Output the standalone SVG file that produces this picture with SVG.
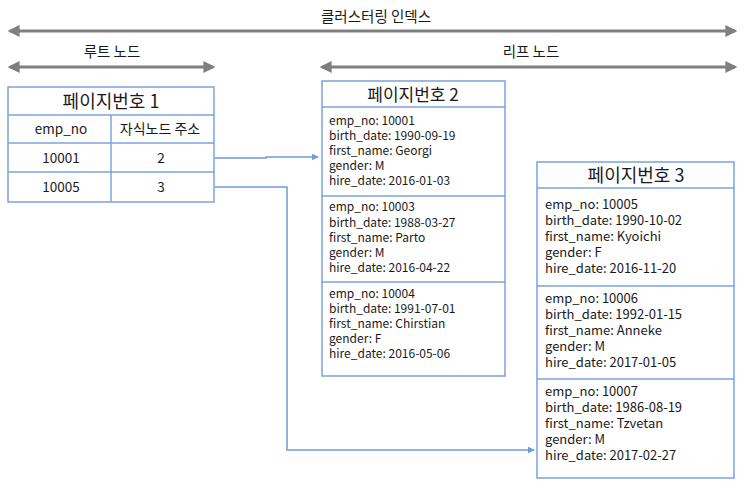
<svg xmlns="http://www.w3.org/2000/svg" width="746" height="491" viewBox="0 0 746 491">
<style>
text{font-family:"Noto Sans CJK KR","Noto Sans",sans-serif;fill:#1a1a1a}
.box{fill:#fff;stroke:#7aa3dc;stroke-width:1.5}
.div{stroke:#7aa3dc;stroke-width:1.5}
.gray{stroke:#7f7f7f;stroke-width:3;fill:none}
.con{stroke:#6f9bd8;stroke-width:1.5;fill:none}
.t{font-size:18px;text-anchor:middle}
.t2{font-size:17px;text-anchor:middle}
.c{font-size:13.5px;text-anchor:middle}
.h{font-size:14px;text-anchor:middle}
.r2{font-size:12px}
.r3{font-size:13px}
.lab{font-size:14.5px;text-anchor:middle}
</style>
<defs>
<marker id="g" viewBox="0 0 10 10" refX="8" refY="5" markerWidth="4" markerHeight="4" orient="auto-start-reverse"><path d="M0,0 L10,5 L0,10 z" fill="#7f7f7f"/></marker>
<marker id="b" viewBox="0 0 10 10" refX="9" refY="5" markerWidth="7" markerHeight="7" markerUnits="userSpaceOnUse" orient="auto"><path d="M0,0 L10,5 L0,10 z" fill="#6f9bd8"/></marker>
</defs>
<rect width="746" height="491" fill="#fff"/>
<g id="scopes">
<line class="gray" x1="10" y1="31" x2="735" y2="31" marker-start="url(#g)" marker-end="url(#g)"/>
<text class="lab" x="376" y="22">클러스터링 인덱스</text>
<line class="gray" x1="10" y1="67" x2="213" y2="67" marker-start="url(#g)" marker-end="url(#g)"/>
<text class="lab" x="112" y="57">루트 노드</text>
<line class="gray" x1="322" y1="67" x2="735" y2="67" marker-start="url(#g)" marker-end="url(#g)"/>
<text class="lab" x="531" y="57">리프 노드</text>
</g>
<g id="page1">
<rect class="box" x="8" y="87" width="206" height="115"/>
<line class="div" x1="8" y1="115" x2="214" y2="115"/>
<line class="div" x1="8" y1="143" x2="214" y2="143"/>
<line class="div" x1="8" y1="172" x2="214" y2="172"/>
<line class="div" x1="111" y1="115" x2="111" y2="202"/>
<text class="t" x="111" y="108">페이지번호 1</text>
<text class="c" x="61" y="134">emp_no</text>
<text class="h" x="160" y="134">자식노드 주소</text>
<text class="c" x="61" y="163">10001</text>
<text class="c" x="161" y="163">2</text>
<text class="c" x="61" y="192">10005</text>
<text class="c" x="161" y="192">3</text>
</g>
<g id="page2">
<rect class="box" x="322" y="81" width="183" height="295"/>
<line class="div" x1="322" y1="107" x2="505" y2="107"/>
<line class="div" x1="322" y1="196" x2="505" y2="196"/>
<line class="div" x1="322" y1="282" x2="505" y2="282"/>
<text class="t2" x="413" y="101">페이지번호 2</text>
<text class="r2" x="329" y="125">emp_no: 10001</text>
<text class="r2" x="329" y="140">birth_date: 1990-09-19</text>
<text class="r2" x="329" y="155">first_name: Georgi</text>
<text class="r2" x="329" y="170">gender: M</text>
<text class="r2" x="329" y="185">hire_date: 2016-01-03</text>
<text class="r2" x="329" y="211">emp_no: 10003</text>
<text class="r2" x="329" y="227">birth_date: 1988-03-27</text>
<text class="r2" x="329" y="242">first_name: Parto</text>
<text class="r2" x="329" y="257">gender: M</text>
<text class="r2" x="329" y="272">hire_date: 2016-04-22</text>
<text class="r2" x="329" y="298">emp_no: 10004</text>
<text class="r2" x="329" y="313">birth_date: 1991-07-01</text>
<text class="r2" x="329" y="328">first_name: Chirstian</text>
<text class="r2" x="329" y="343">gender: F</text>
<text class="r2" x="329" y="358">hire_date: 2016-05-06</text>
</g>
<g id="page3">
<rect class="box" x="537" y="162" width="197" height="316"/>
<line class="div" x1="537" y1="188" x2="734" y2="188"/>
<line class="div" x1="537" y1="286" x2="734" y2="286"/>
<line class="div" x1="537" y1="379" x2="734" y2="379"/>
<text class="t" x="636" y="182">페이지번호 3</text>
<text class="r3" x="545" y="209">emp_no: 10005</text>
<text class="r3" x="545" y="225">birth_date: 1990-10-02</text>
<text class="r3" x="545" y="241">first_name: Kyoichi</text>
<text class="r3" x="545" y="257">gender: F</text>
<text class="r3" x="545" y="273">hire_date: 2016-11-20</text>
<text class="r3" x="545" y="303">emp_no: 10006</text>
<text class="r3" x="545" y="319">birth_date: 1992-01-15</text>
<text class="r3" x="545" y="335">first_name: Anneke</text>
<text class="r3" x="545" y="351">gender: M</text>
<text class="r3" x="545" y="367">hire_date: 2017-01-05</text>
<text class="r3" x="545" y="396">emp_no: 10007</text>
<text class="r3" x="545" y="412">birth_date: 1986-08-19</text>
<text class="r3" x="545" y="428">first_name: Tzvetan</text>
<text class="r3" x="545" y="444">gender: M</text>
<text class="r3" x="545" y="460">hire_date: 2017-02-27</text>
</g>
<g id="connectors">
<polyline class="con" points="215,158 266,158 266,157 318,157" marker-end="url(#b)"/>
<polyline class="con" points="215,187 287,187 287,450 534,450" marker-end="url(#b)"/>
</g>
</svg>
